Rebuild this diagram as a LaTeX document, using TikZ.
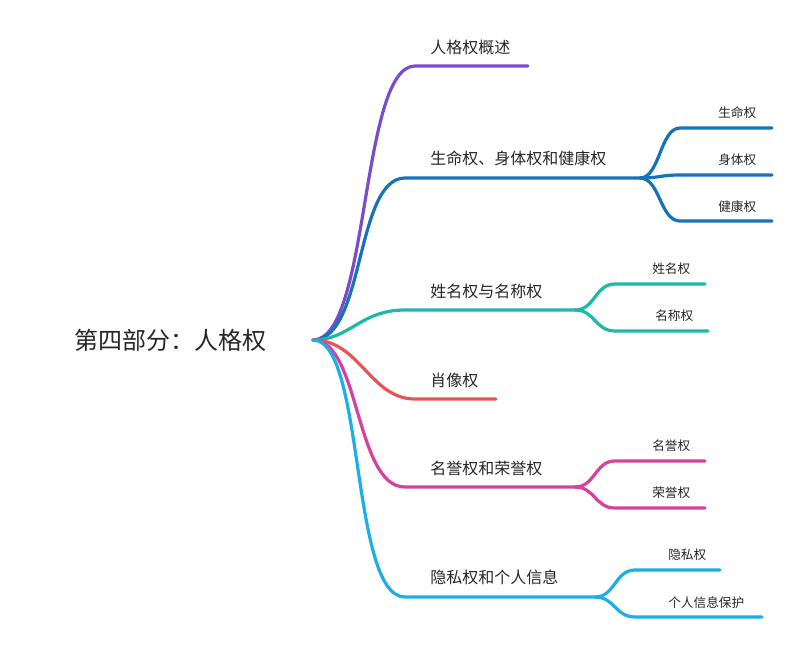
\documentclass[tikz,border=0pt]{standalone}
\usepackage{fontspec}
\setmainfont{Noto Sans CJK SC}
\begin{document}
\begin{tikzpicture}[x=0.75pt,y=-0.75pt,
  br/.style={line width=2.4pt,line cap=round},
  lab/.style={anchor=west,inner sep=0pt,font=\fontsize{12}{14}\selectfont,text=black!85},
  slab/.style={anchor=west,inner sep=0pt,font=\fontsize{9.5}{11}\selectfont,text=black!85}]
\definecolor{cP}{HTML}{7B4CC9}
\definecolor{cB}{HTML}{1773B8}
\definecolor{cT}{HTML}{1DB8AA}
\definecolor{cR}{HTML}{E85450}
\definecolor{cM}{HTML}{D6409F}
\definecolor{cC}{HTML}{1BAEE8}
\useasboundingbox (0,0) rectangle (800,650);
\node[inner sep=0pt,font=\fontsize{18}{20}\selectfont,text=black!85] (root) at (170,340) {第四部分：人格权};
\coordinate (r) at (313,340);
% branch 1
\coordinate (a1) at (415,66); \coordinate (a2) at (528,66);
\draw[br,cP] (r) .. controls (370,340) and (360,66) .. (a1) -- (a2);
\node[lab] (t1) at (430,47) {人格权概述};
% branch 2
\coordinate (b1) at (405,178); \coordinate (b2) at (640,178);
\draw[br,cB] (r) .. controls (365,340) and (355,178) .. (b1) -- (b2);
\node[lab] (t2) at (430,158) {生命权、身体权和健康权};
\coordinate (b11) at (680,128); \coordinate (b12) at (772,128);
\coordinate (b21) at (680,175); \coordinate (b22) at (772,175);
\coordinate (b31) at (680,221); \coordinate (b32) at (772,221);
\draw[br,cB] (b2) .. controls (660,178) and (660,128) .. (b11) -- (b12);
\draw[br,cB] (b2) .. controls (660,178) and (660,175) .. (b21) -- (b22);
\draw[br,cB] (b2) .. controls (660,178) and (660,221) .. (b31) -- (b32);
\node[slab] (s1) at (718,113) {生命权};
\node[slab] (s2) at (718,160) {身体权};
\node[slab] (s3) at (718,207) {健康权};
% branch 3
\coordinate (c1) at (405,310); \coordinate (c2) at (575,310);
\draw[br,cT] (r) .. controls (350,340) and (360,310) .. (c1) -- (c2);
\node[lab] (t3) at (430,291) {姓名权与名称权};
\coordinate (c11) at (615,284); \coordinate (c12) at (705,284);
\coordinate (c21) at (615,331); \coordinate (c22) at (708,331);
\draw[br,cT] (c2) .. controls (595,310) and (595,284) .. (c11) -- (c12);
\draw[br,cT] (c2) .. controls (595,310) and (595,331) .. (c21) -- (c22);
\node[slab] (s4) at (652,269) {姓名权};
\node[slab] (s5) at (655,316) {名称权};
% branch 4
\coordinate (d1) at (415,399); \coordinate (d2) at (496,399);
\draw[br,cR] (r) .. controls (360,340) and (370,399) .. (d1) -- (d2);
\node[lab] (t4) at (430,380) {肖像权};
% branch 5
\coordinate (e1) at (405,487); \coordinate (e2) at (575,487);
\draw[br,cM] (r) .. controls (360,340) and (355,487) .. (e1) -- (e2);
\node[lab] (t5) at (430,468) {名誉权和荣誉权};
\coordinate (e11) at (615,461); \coordinate (e12) at (705,461);
\coordinate (e21) at (615,508); \coordinate (e22) at (705,508);
\draw[br,cM] (e2) .. controls (595,487) and (595,461) .. (e11) -- (e12);
\draw[br,cM] (e2) .. controls (595,487) and (595,508) .. (e21) -- (e22);
\node[slab] (s6) at (652,446) {名誉权};
\node[slab] (s7) at (652,493) {荣誉权};
% branch 6
\coordinate (f1) at (405,597); \coordinate (f2) at (595,597);
\draw[br,cC] (r) .. controls (365,340) and (350,597) .. (f1) -- (f2);
\node[lab] (t6) at (430,577) {隐私权和个人信息};
\coordinate (f11) at (635,570); \coordinate (f12) at (720,570);
\coordinate (f21) at (635,617); \coordinate (f22) at (762,617);
\draw[br,cC] (f2) .. controls (615,597) and (615,570) .. (f11) -- (f12);
\draw[br,cC] (f2) .. controls (615,597) and (615,617) .. (f21) -- (f22);
\node[slab] (s8) at (668,555) {隐私权};
\node[slab] (s9) at (668,603) {个人信息保护};
\end{tikzpicture}
\end{document}
